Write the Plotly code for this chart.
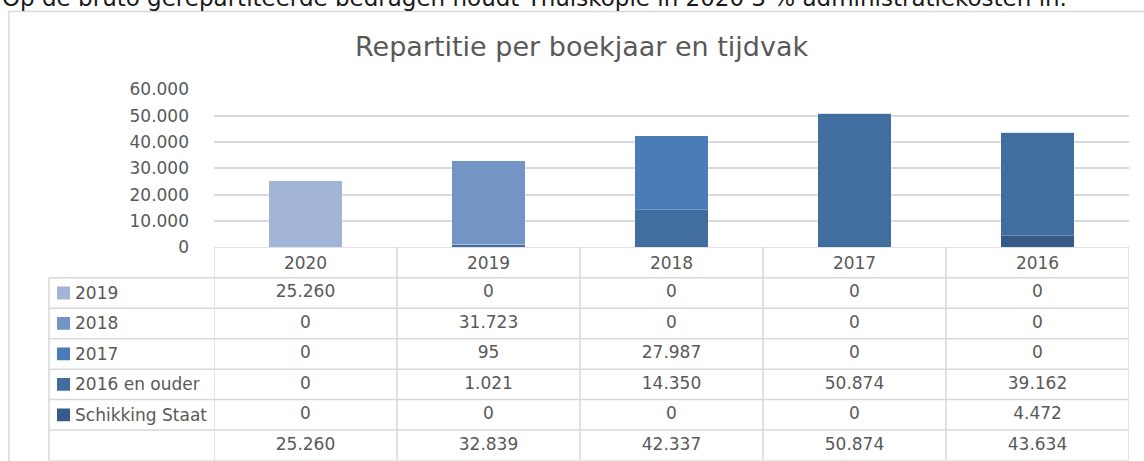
import plotly.graph_objects as go

# ---------------- data ----------------
categories = ["2020", "2019", "2018", "2017", "2016"]
series_names = ["2019", "2018", "2017", "2016 en ouder", "Schikking Staat"]
s_2019 = [25260, 0, 0, 0, 0]
s_2018 = [0, 31723, 0, 0, 0]
s_2017 = [0, 95, 27987, 0, 0]
s_2016_ouder = [0, 1021, 14350, 50874, 39162]
s_schikking = [0, 0, 0, 0, 4472]
totals = [25260, 32839, 42337, 50874, 43634]
y_tick_values = [0, 10000, 20000, 30000, 40000, 50000, 60000]
series_colors = ["#A3B5D6", "#7295C6", "#4A7CB7", "#426D9F", "#375B88"]
title_text = "Repartitie per boekjaar en tijdvak"
intro_text = "Op de bruto gerepartiteerde bedragen houdt Thuiskopie in 2020 3 % administratiekosten in."

series_values = [s_2019, s_2018, s_2017, s_2016_ouder, s_schikking]

# ---------------- geometry (pixels) ----------------
W, H = 1144, 461
PLOT_L, PLOT_R = 214, 1129
Y_ZERO_PX, Y_TOP_PX = 247.3, 89.3
TABLE_BOTTOM_PX = 460.5
LABEL_L = 49
GRID = "#D9D9D9"
TXT = "#595959"
FONT = "DejaVu Sans"


def px_x(p):
    return p / W


def px_y(p):
    return 1 - p / H


def fmt(v):
    return f"{v:,}".replace(",", ".")


n_rows = len(series_names) + 2  # header + series + totals

fig = go.Figure()

# stacked bars: last series sits at the bottom
for name, vals, col in reversed(list(zip(series_names, series_values, series_colors))):
    fig.add_trace(go.Bar(
        x=categories, y=vals, name=name,
        marker=dict(color=col, line=dict(color="rgba(255,255,255,0.3)", width=0.7)),
        showlegend=False,
    ))

# table values
table_rows = series_values + [totals]
for r, vals in enumerate(table_rows, start=1):
    fig.add_trace(go.Scatter(
        x=categories, y=[r + 0.5] * len(categories), yaxis="y2",
        mode="text", text=[fmt(v) for v in vals],
        textfont=dict(family=FONT, size=17, color=TXT),
        textposition="middle center", cliponaxis=False,
        showlegend=False, hoverinfo="skip",
    ))

shapes = []
# outer chart border
shapes.append(dict(type="rect", xref="paper", yref="paper",
                   x0=px_x(9), x1=1.05, y0=-0.05, y1=px_y(11.5),
                   line=dict(color=GRID, width=1.5), fillcolor="rgba(0,0,0,0)", layer="below"))
# table vertical lines at category boundaries
for i in range(len(categories) + 1):
    shapes.append(dict(type="line", xref="x", yref="y2",
                       x0=i - 0.5, x1=i - 0.5, y0=0, y1=n_rows,
                       line=dict(color=GRID, width=1.5)))
# label column left border
shapes.append(dict(type="line", xref="paper", yref="y2",
                   x0=px_x(LABEL_L), x1=px_x(LABEL_L), y0=1, y1=n_rows,
                   line=dict(color=GRID, width=1.5)))
# horizontal lines
shapes.append(dict(type="line", xref="x", yref="y2", x0=-0.5, x1=len(categories) - 0.5,
                   y0=0, y1=0, line=dict(color=GRID, width=1.5)))
for r in range(1, n_rows + 1):
    shapes.append(dict(type="line", xref="paper", yref="y2",
                       x0=px_x(LABEL_L), x1=px_x(PLOT_R), y0=r, y1=r,
                       line=dict(color=GRID, width=1.5)))
# legend swatches in the table
for r, col in enumerate(series_colors, start=1):
    shapes.append(dict(type="rect", xref="paper", yref="y2",
                       x0=px_x(57), x1=px_x(70), y0=r + 0.5 - 0.21, y1=r + 0.5 + 0.21,
                       line=dict(width=0), fillcolor=col))

annotations = []
for r, name in enumerate(series_names, start=1):
    annotations.append(dict(xref="paper", yref="y2", x=px_x(73), y=r + 0.5,
                            text=name, showarrow=False, xanchor="left", yanchor="middle",
                            font=dict(family=FONT, size=17, color=TXT)))
# chart title
annotations.append(dict(xref="paper", yref="paper", x=px_x(581), y=px_y(47),
                        text=title_text, showarrow=False, xanchor="center", yanchor="middle",
                        font=dict(family=FONT, size=27, color=TXT)))
# page text above the chart, cut off at the top edge as in the source
annotations.append(dict(xref="paper", yref="paper", x=0, y=px_y(-2.5),
                        text=intro_text, showarrow=False, xanchor="left", yanchor="middle",
                        font=dict(family=FONT, size=23, color="#1a1a1a")))

fig.update_layout(
    width=W, height=H,
    margin=dict(l=0, r=0, t=0, b=0, autoexpand=False),
    paper_bgcolor="white", plot_bgcolor="white",
    barmode="stack", bargap=0.6,
    separators=",.",
    showlegend=False,
    xaxis=dict(type="category", domain=[px_x(PLOT_L), px_x(PLOT_R)], range=[-0.5, len(categories) - 0.5],
               showgrid=False, zeroline=False, showline=False, ticks="", ticklabelstandoff=4,
               tickfont=dict(family=FONT, size=17, color=TXT), anchor="y", fixedrange=True),
    yaxis=dict(domain=[px_y(Y_ZERO_PX), px_y(Y_TOP_PX)], range=[0, 60000],
               tickvals=y_tick_values, tickformat=",d",
               showgrid=True, gridcolor=GRID, gridwidth=1.5, zeroline=False, showline=False,
               ticks="", ticklabelstandoff=24,
               tickfont=dict(family=FONT, size=17, color=TXT), fixedrange=True),
    yaxis2=dict(domain=[px_y(TABLE_BOTTOM_PX), px_y(Y_ZERO_PX)], range=[n_rows, 0],
                visible=False, anchor="free", position=0, fixedrange=True),
    shapes=shapes,
    annotations=annotations,
)

fig.write_html("out.html", config={"displayModeBar": False},
               post_script="document.body.style.margin='0';")
